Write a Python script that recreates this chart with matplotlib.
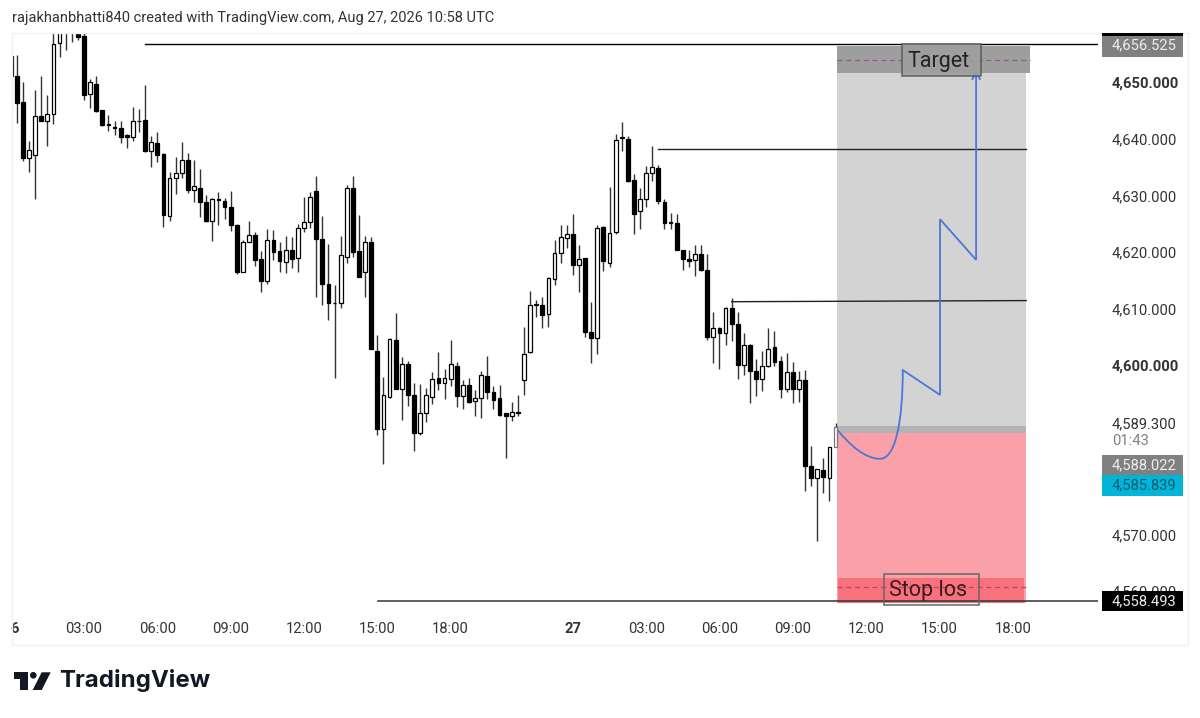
import matplotlib
matplotlib.use('Agg')
import matplotlib.pyplot as plt
from matplotlib.patches import Rectangle, Polygon, Circle, PathPatch
from matplotlib.path import Path

plt.rcParams['font.family'] = ['Roboto', 'DejaVu Sans']

# 15 minute candles, one every index step
opens = [
    4654.7, 4651.2, 4646.5, 4636.7, 4637.2, 4644.0, 4643.2, 4644.4, 4657.0, 4659.5,
    4660.0, 4658.6, 4658.3, 4648.0, 4649.8, 4645.1, 4642.6, 4642.2, 4642.0, 4640.7,
    4640.3, 4643.2, 4643.3, 4637.8, 4639.3, 4637.3, 4626.3, 4633.1, 4633.9, 4636.3,
    4631.0, 4631.4, 4628.9, 4625.5, 4629.3, 4629.0, 4628.0, 4624.8, 4616.4, 4621.7,
    4623.0, 4618.8, 4614.8, 4622.1, 4620.1, 4618.3, 4620.4, 4618.9, 4624.3, 4625.3,
    4630.8, 4622.3, 4614.4, 4611.0, 4611.0, 4619.2, 4631.4, 4620.1, 4616.4, 4621.7,
    4602.5, 4588.6, 4594.3, 4604.4, 4595.8, 4600.1, 4594.7, 4587.9, 4591.5, 4594.4,
    4597.7, 4596.9, 4597.5, 4599.9, 4594.5, 4596.5, 4593.6, 4594.2, 4598.1, 4595.3,
    4594.1, 4591.5, 4591.0, 4591.6, 4597.4, 4602.3, 4610.7, 4610.6, 4609.1, 4615.3,
    4619.8, 4622.5, 4623.1, 4617.7, 4619.0, 4605.9, 4604.7, 4624.4, 4618.1, 4623.6,
    4640.3, 4640.0, 4632.8, 4627.3, 4629.3, 4633.9, 4634.8, 4628.9, 4625.2, 4625.1,
    4620.3, 4618.8, 4618.5, 4619.6, 4616.9, 4605.0, 4606.6, 4605.7, 4610.1, 4607.3,
    4600.0, 4603.6, 4598.9, 4597.5, 4599.8, 4603.1, 4600.7, 4595.7, 4598.7, 4595.7,
    4597.4, 4582.2, 4580.0, 4581.5, 4580.0, 4585.4,
]
closes = [
    4651.1, 4646.3, 4636.7, 4638.1, 4644.0, 4643.2, 4644.4, 4656.8, 4659.0, 4660.5,
    4661.0, 4658.0, 4647.8, 4650.1, 4644.9, 4642.4, 4642.5, 4642.0, 4640.4, 4640.3,
    4643.1, 4643.1, 4637.8, 4639.4, 4637.2, 4626.5, 4633.1, 4633.9, 4636.3, 4631.0,
    4631.6, 4628.8, 4625.4, 4629.3, 4629.2, 4628.0, 4624.7, 4616.5, 4621.8, 4623.0,
    4618.5, 4614.8, 4622.1, 4620.0, 4618.4, 4620.4, 4618.8, 4624.2, 4625.3, 4629.8,
    4622.3, 4614.3, 4610.9, 4610.9, 4619.5, 4631.3, 4620.0, 4615.6, 4621.8, 4602.8,
    4588.7, 4594.6, 4604.6, 4595.8, 4600.1, 4594.7, 4588.0, 4591.5, 4594.6, 4597.5,
    4596.9, 4597.7, 4600.1, 4594.5, 4596.5, 4593.5, 4594.2, 4598.3, 4595.3, 4593.8,
    4591.1, 4590.9, 4591.6, 4591.5, 4602.0, 4610.6, 4610.6, 4608.8, 4615.4, 4619.9,
    4622.6, 4623.1, 4617.7, 4618.8, 4605.9, 4604.7, 4624.3, 4618.4, 4623.4, 4639.9,
    4640.1, 4632.5, 4626.8, 4629.4, 4634.0, 4635.1, 4629.1, 4625.2, 4625.1, 4620.3,
    4618.8, 4618.4, 4619.6, 4616.8, 4605.0, 4606.6, 4605.7, 4610.0, 4607.2, 4600.0,
    4603.6, 4599.0, 4597.5, 4599.8, 4602.9, 4600.6, 4595.7, 4598.7, 4595.8, 4597.4,
    4582.1, 4580.0, 4581.6, 4580.2, 4585.4, 4589.1,
]
highs = [
    4654.7, 4654.9, 4650.1, 4639.7, 4648.6, 4651.1, 4647.8, 4659.5, 4661.0, 4661.5,
    4662.0, 4659.5, 4658.7, 4650.6, 4651.2, 4645.2, 4644.2, 4643.1, 4643.1, 4640.8,
    4645.7, 4645.3, 4649.5, 4640.6, 4641.3, 4637.5, 4634.1, 4636.8, 4639.4, 4637.6,
    4636.3, 4634.7, 4630.1, 4629.5, 4630.6, 4629.5, 4630.8, 4624.9, 4622.1, 4625.4,
    4623.6, 4620.2, 4624.0, 4623.9, 4621.7, 4622.9, 4622.7, 4625.0, 4629.7, 4630.7,
    4633.5, 4626.3, 4621.4, 4614.2, 4622.8, 4631.8, 4633.5, 4626.6, 4622.8, 4622.7,
    4605.3, 4597.9, 4604.7, 4609.2, 4601.4, 4600.7, 4596.9, 4596.7, 4596.0, 4598.8,
    4602.3, 4599.3, 4604.4, 4600.5, 4597.4, 4597.7, 4595.6, 4599.0, 4601.6, 4596.3,
    4596.5, 4591.5, 4593.4, 4594.6, 4606.8, 4613.1, 4611.5, 4612.1, 4615.5, 4622.1,
    4624.7, 4624.7, 4626.8, 4621.2, 4619.0, 4611.2, 4624.7, 4624.6, 4631.5, 4640.9,
    4643.0, 4640.6, 4633.8, 4631.4, 4635.2, 4638.7, 4635.4, 4629.3, 4626.9, 4626.8,
    4620.4, 4620.4, 4621.2, 4621.3, 4619.6, 4609.4, 4606.7, 4610.3, 4611.8, 4609.4,
    4605.7, 4603.7, 4601.1, 4602.5, 4606.6, 4606.0, 4601.6, 4602.1, 4600.6, 4599.0,
    4599.1, 4585.7, 4581.6, 4583.6, 4585.5, 4589.7,
]
lows = [
    4651.1, 4642.8, 4636.1, 4634.2, 4629.4, 4643.2, 4638.7, 4642.7, 4654.6, 4655.8,
    4657.1, 4657.5, 4646.9, 4645.4, 4644.7, 4642.3, 4641.4, 4640.7, 4639.3, 4638.4,
    4639.7, 4641.2, 4637.7, 4635.1, 4635.9, 4624.5, 4625.5, 4630.2, 4633.1, 4630.5,
    4628.8, 4626.2, 4625.3, 4622.0, 4624.7, 4625.9, 4623.7, 4616.1, 4616.4, 4621.7,
    4617.6, 4613.0, 4614.3, 4618.6, 4616.4, 4616.2, 4617.1, 4616.5, 4623.6, 4624.2,
    4612.0, 4610.6, 4608.0, 4597.7, 4610.0, 4618.0, 4619.2, 4615.6, 4612.0, 4602.8,
    4587.6, 4582.5, 4594.2, 4595.7, 4590.3, 4592.8, 4584.8, 4587.6, 4589.9, 4593.1,
    4595.6, 4593.9, 4596.3, 4592.5, 4592.2, 4593.3, 4590.9, 4590.7, 4593.9, 4592.2,
    4591.0, 4583.6, 4590.1, 4591.0, 4594.6, 4602.2, 4608.5, 4606.5, 4606.8, 4614.2,
    4618.0, 4620.7, 4615.9, 4612.9, 4605.0, 4600.3, 4601.9, 4616.7, 4617.3, 4623.2,
    4637.9, 4632.4, 4623.1, 4624.0, 4627.9, 4632.6, 4628.5, 4624.0, 4624.0, 4620.3,
    4616.9, 4617.4, 4615.8, 4616.7, 4604.4, 4600.4, 4599.3, 4603.5, 4604.3, 4597.6,
    4598.2, 4593.2, 4594.5, 4595.4, 4599.7, 4599.8, 4594.2, 4595.2, 4593.3, 4593.5,
    4577.7, 4578.6, 4568.8, 4577.3, 4576.0, 4585.4,
]

time_ticks = [0.7, 12, 24, 36, 48, 60, 72, 92, 104, 116, 128, 140, 152, 164]
time_labels = ['6', '03:00', '06:00', '09:00', '12:00', '15:00', '18:00', '27',
               '03:00', '06:00', '09:00', '12:00', '15:00', '18:00']
price_ticks = [4650, 4640, 4630, 4620, 4610, 4600, 4570, 4560]
price_labels = ['4,650.000', '4,640.000', '4,630.000', '4,620.000', '4,610.000',
                '4,600.000', '4,570.000', '4,560.000']

# hand drawn forecast line: bezier control points, then straight legs
curve_x = [135.4, 137.4, 139.8, 142.3, 144.8, 146.0, 146.0]
curve_y = [4588.4, 4585.8, 4583.4, 4583.4, 4583.4, 4590.0, 4599.1]
leg_x = [146.0, 152.1, 152.1, 158.0, 158.0]
leg_y = [4599.1, 4594.7, 4625.8, 4618.6, 4651.9]

W, H = 1200, 718
fig = plt.figure(figsize=(W / 100, H / 100), dpi=100, facecolor='white')

# price pane, x pixel = 10.7 + 6.11 * index, y pixel = 365 - 5.65 * (price - 4600)
left, right, top, bottom = 12, 1098, 33, 612
ax = fig.add_axes([left / W, 1 - bottom / H, (right - left) / W, (bottom - top) / H])
ax.set_xlim(0.21, 177.95)
ax.set_ylim(4556.28, 4658.76)
for s in ax.spines.values():
    s.set_visible(False)

# position tool zones
ax.add_patch(Rectangle((135.2, 4588.0), 31, 68.4, fc='#d3d3d3', ec='none', zorder=1))
ax.add_patch(Rectangle((135.2, 4557.9), 31, 30.1, fc='#f9a0a8', ec='none', zorder=1))
ax.add_patch(Rectangle((135.2, 4651.7), 31.6, 4.8, fc='#9e9e9e', ec='none', zorder=1.5))
ax.add_patch(Rectangle((135.2, 4588.0), 31, 1.2, fc='#b3b3b3', ec='none', zorder=1.5))
ax.add_patch(Rectangle((135.4, 4557.9), 30.5, 4.4, fc='#f8727e', ec='none', zorder=1.5))
ax.hlines(4654.0, 135.2, 166.8, color='#8a5a90', lw=0.9, ls=(0, (4, 3)), zorder=2)
ax.hlines(4560.7, 135.2, 166.2, color='#c0405a', lw=0.9, ls=(0, (4, 3)), zorder=2)

# horizontal levels
ax.plot([22, 177.95], [4656.8, 4656.8], color='black', lw=1.0, zorder=2.5)
ax.plot([106, 166.2], [4638.2, 4638.2], color='#222222', lw=1.0, zorder=2.5)
ax.plot([118, 166.2], [4611.2, 4611.4], color='#222222', lw=1.0, zorder=2.5)
ax.plot([60.1, 177.95], [4558.2, 4558.2], color='#333333', lw=1.1, zorder=4)

# candles
idx = range(len(opens))
ax.vlines(idx, lows, highs, color='#333333', lw=1.0, zorder=3)
for i, o, c in zip(idx, opens, closes):
    up = c > o
    body_bottom = min(o, c)
    height = max(abs(c - o), 0.15)
    edge = '#777777' if i == len(opens) - 1 else 'black'
    ax.bar(i, height, width=0.62, bottom=body_bottom, color='white' if up else 'black',
           edgecolor=edge, linewidth=0.9, zorder=3.2)

# forecast line
verts = list(zip(curve_x, curve_y))
codes = [Path.MOVETO] + [Path.CURVE4] * 6
ax.add_patch(PathPatch(Path(verts, codes), fc='none', ec='#4a77d8', lw=1.3, zorder=5))
ax.plot(leg_x, leg_y, color='#4a77d8', lw=1.3, zorder=5, solid_joinstyle='miter')
ax.plot([157.4, 158.0, 158.6], [4650.6, 4651.9, 4650.6], color='#4a77d8', lw=1.3, zorder=5)

# axes ticks
ax.set_xticks(time_ticks)
ax.set_xticklabels(time_labels, fontsize=10.6, color='#333333')
ax.xaxis.get_ticklabels()[0].set_fontweight('bold')
ax.xaxis.get_ticklabels()[7].set_fontweight('bold')
ax.yaxis.tick_right()
ax.set_yticks(price_ticks)
ax.set_yticklabels(price_labels, fontsize=10.6, color='#333333')
ax.tick_params(axis='both', length=0)
ax.tick_params(axis='x', pad=7)
ax.tick_params(axis='y', pad=10)
for lab in ax.yaxis.get_ticklabels():
    lab.set_verticalalignment('center_baseline')
    if lab.get_text() in ('4,650.000', '4,600.000'):
        lab.set_fontweight('bold')

# overlay in pixels for the frame, price tags and the branding
ov = fig.add_axes([0, 0, 1, 1])
ov.set_xlim(0, W)
ov.set_ylim(H, 0)
ov.axis('off')
ov.patch.set_alpha(0)

ov.add_patch(Rectangle((12, 33), 1176, 612, fc='none', ec='#eef0f4', lw=1))

ov.text(12, 18, 'rajakhanbhatti840 created with TradingView.com, Aug 27, 2026 10:58 UTC',
        fontsize=10.5, color='#333333', va='center')


def price_tag(y0, y1, face, text, color):
    ov.add_patch(Rectangle((1102, y0), 81, y1 - y0, fc=face, ec='none'))
    ov.text(1112, (y0 + y1) / 2, text, fontsize=10.6, color=color, ha='left', va='center')


price_tag(33, 57, '#808080', '4,656.525', '#eeeeee')
ov.add_patch(Rectangle((1102, 33), 81, 3, fc='black', ec='none'))
price_tag(455, 475, '#808080', '4,588.022', '#eeeeee')
price_tag(475, 496, '#00b5d8', '4,585.839', '#0b5a72')
price_tag(591, 611, 'black', '4,558.493', '#eeeeee')
ov.text(1112, 424, '4,589.300', fontsize=10.6, color='#333333', va='center')
ov.text(1112, 441, '01:43', fontsize=10.6, color='#808080', va='center')

# text boxes on the zones
ov.add_patch(Rectangle((902, 44), 79, 32, fc='#9e9e9e', ec='#555555', lw=1.1, alpha=0.9))
ov.text(939, 62, 'Target', fontsize=15.5, color='#222222', ha='center', va='center')
ov.add_patch(Rectangle((884, 574), 95, 31, fc='none', ec='#666666', lw=1.1))
ov.text(928, 590.5, 'Stop los', fontsize=15.5, color='#3a1a20', ha='center', va='center')

# TradingView logo
ov.add_patch(Polygon([(14, 672.3), (28.3, 672.3), (28.3, 690), (20, 690), (20, 678.5), (14, 678.5)],
                     fc='#131722', ec='none'))
ov.add_patch(Circle((33.3, 675.3), 3.3, fc='#131722', ec='none'))
ov.add_patch(Polygon([(41.7, 672.3), (50.7, 672.3), (41.7, 690), (32.7, 690)], fc='#131722', ec='none'))
ov.text(59, 681, 'TradingView', fontsize=17.3, fontweight='bold', family=['Inter', 'DejaVu Sans'],
        color='#131722', va='center')

fig.savefig('out.png', dpi=100)
